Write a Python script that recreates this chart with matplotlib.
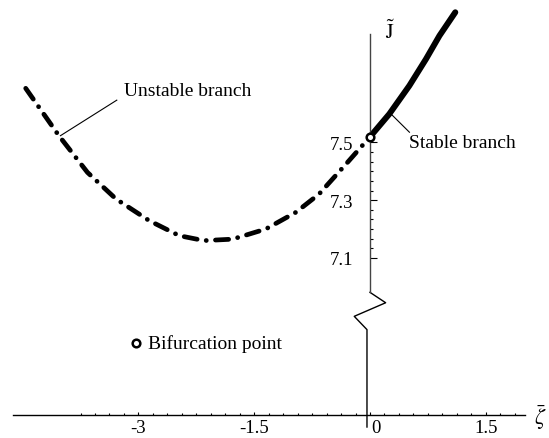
import numpy as np
import matplotlib
matplotlib.use("Agg")
import matplotlib.pyplot as plt
from matplotlib.transforms import ScaledTranslation

plt.rcParams['font.family'] = ['Liberation Serif', 'DejaVu Serif']
plt.rcParams['mathtext.fontset'] = 'stix'
plt.rcParams['lines.scale_dashes'] = False

# unstable branch (dash-dot)
unstable_zeta = [-4.46, -4.03, -3.66, -3.29, -2.86, -2.47, -2.15, -1.78, -1.35, -0.96, -0.66, -0.31, 0.0]
unstable_J = [7.687, 7.523, 7.396, 7.304, 7.229, 7.177, 7.160, 7.165, 7.200, 7.258, 7.321, 7.425, 7.519]

# stable branch (solid)
stable_zeta = [0.0, 0.25, 0.51, 0.725, 0.90, 1.105]
stable_J = [7.519, 7.598, 7.696, 7.788, 7.869, 7.950]

bif_zeta, bif_J = 0.0, 7.519

xtick_vals = [-3, -1.5, 0, 1.5]
xtick_labels = ["-3", "-1.5", "0", "1.5"]
ytick_vals = [7.1, 7.3, 7.5]
ytick_labels = ["7.1", "7.3", "7.5"]

fig = plt.figure(figsize=(5.49, 4.39), dpi=100)
ax = fig.add_axes([0, 0, 1, 1])
ax.set_xlim(-4.793, 2.319)
ax.set_ylim(6.477, 7.996)
ax.patch.set_visible(False)

# axes: bottom at J=6.557, left at zeta=0 (upper part only, broken below)
x_axis_J = 6.557
ax.spines['top'].set_visible(False)
ax.spines['right'].set_visible(False)
ax.spines['bottom'].set_position(('data', x_axis_J))
ax.spines['bottom'].set_bounds(-4.63, 2.01)
ax.spines['bottom'].set_linewidth(1.0)
ax.spines['left'].set_position(('data', 0))
ax.spines['left'].set_bounds(6.981, 7.875)
ax.spines['left'].set_color('#444444')
ax.spines['left'].set_linewidth(1.0)

ax.set_xticks(xtick_vals)
ax.set_xticklabels(xtick_labels)
ax.set_xticks(np.arange(-3.75, 1.9, 0.1875), minor=True)
ax.set_yticks(ytick_vals)
ax.set_yticklabels(ytick_labels)
ax.set_yticks(np.arange(7.1, 7.51, 0.2 / 6), minor=True)
ax.tick_params(axis='x', which='major', direction='in', length=2.5, width=0.8, pad=3, labelsize=13.5)
ax.tick_params(axis='x', which='minor', direction='in', length=1.5, width=0.8)
ax.tick_params(axis='y', which='major', direction='in', length=5, width=0.8, pad=12, labelsize=13.5)
ax.tick_params(axis='y', which='minor', direction='in', length=2, width=0.8)
for lbl in ax.get_xticklabels():
    if lbl.get_text() == "0":
        lbl.set_transform(lbl.get_transform() + ScaledTranslation(6 / 100, 0, fig.dpi_scale_trans))

# axis break + lower part of the vertical axis
ax.plot([0, 0.203, -0.204, -0.039, -0.039], [6.981, 6.945, 6.898, 6.852, 6.515],
        color='black', lw=1.0, clip_on=False)

# curves
ax.plot(unstable_zeta, unstable_J, color='black', lw=3.4,
        linestyle=(0, (9.5, 6.6, 0.1, 6.6)), dash_capstyle='round', solid_capstyle='round')
ax.plot(stable_zeta, stable_J, color='black', lw=4.3, solid_capstyle='round')
ax.plot([bif_zeta], [bif_J], 'o', ms=5.5, mfc='white', mec='black', mew=1.8, zorder=5)

# annotations
ax.plot([-4.01, -3.28], [7.523, 7.646], color='black', lw=0.8)
ax.text(-3.19, 7.679, "Unstable branch", fontsize=14, va='center', ha='left')
ax.plot([0.273, 0.511], [7.598, 7.535], color='black', lw=0.8)
ax.text(0.506, 7.498, "Stable branch", fontsize=14, va='center', ha='left')

ax.plot([-3.03], [6.806], 'o', ms=5.5, mfc='white', mec='black', mew=1.8)
ax.text(-2.88, 6.806, "Bifurcation point", fontsize=14, va='center', ha='left')

ax.text(0.255, 7.885, r"$\tilde{\mathrm{J}}$", fontsize=15, ha='center', va='center')
ax.text(2.20, 6.552, r"$\bar{\zeta}$", fontsize=16, ha='center', va='center')

fig.savefig("out.png", dpi=100)
